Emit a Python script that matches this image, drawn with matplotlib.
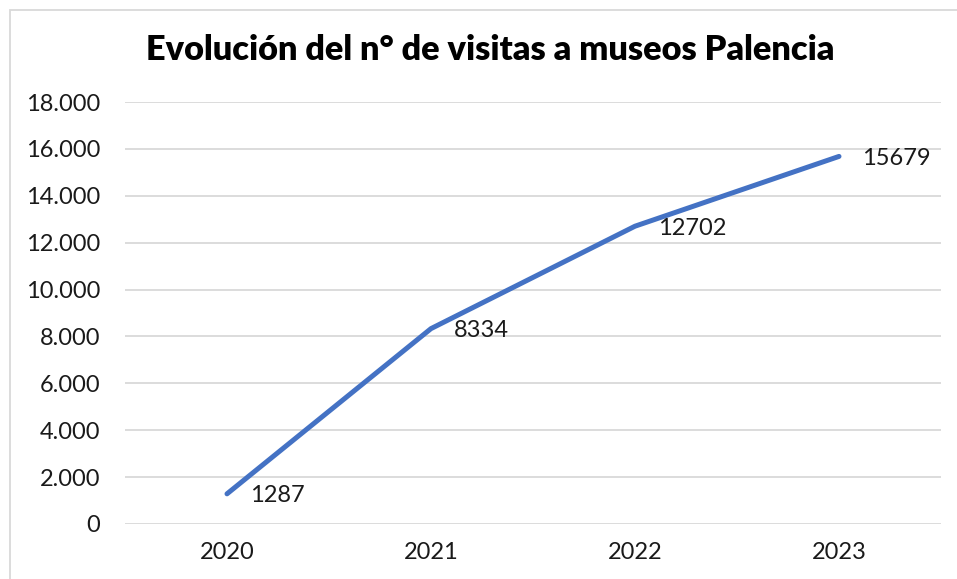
import matplotlib

matplotlib.use("Agg")
import matplotlib.pyplot as plt
from matplotlib.patches import Rectangle
from matplotlib.ticker import FuncFormatter

years = ["2020", "2021", "2022", "2023"]
visits = [1287, 8334, 12702, 15679]
y_ticks = list(range(0, 18001, 2000))

W, H = 957, 579
plt.rcParams["font.family"] = ["Lato", "DejaVu Sans"]

fig = plt.figure(figsize=(W / 100, H / 100), dpi=100)
ax = fig.add_axes([125 / W, 1 - 524 / H, 816 / W, 422 / H])

x = list(range(len(years)))
ax.plot(x, visits, color="#4472C4", linewidth=3.6, solid_capstyle="round",
        solid_joinstyle="round", zorder=3)
for xi, v in zip(x, visits):
    ax.annotate(str(v), (xi, v), xytext=(23, -2), textcoords="offset pixels",
                ha="left", va="center", fontsize=17, color="#1a1a1a")

ax.set_xlim(-0.5, len(years) - 0.5)
ax.set_ylim(0, 18000)
ax.set_xticks(x)
ax.set_xticklabels(years)
ax.set_yticks(y_ticks)
ax.yaxis.set_major_formatter(FuncFormatter(lambda v, _: f"{int(v):,}".replace(",", ".")))
ax.tick_params(length=0, labelsize=17, labelcolor="#1a1a1a")
ax.tick_params(axis="y", pad=18)
ax.tick_params(axis="x", pad=13)
ax.grid(axis="y", color="#D9D9D9", linewidth=1.3)
ax.set_axisbelow(True)
for s in ax.spines.values():
    s.set_visible(False)

fig.text(490 / W, 1 - 50 / H, "Evolución del n° de visitas a museos Palencia",
         ha="center", va="center", fontsize=24.7, fontweight="heavy", color="#000000")

fig.patches.append(Rectangle((10 / W, -0.1), 1.2, 1 - 10 / H + 0.1, transform=fig.transFigure,
                             fill=False, edgecolor="#D9D9D9", linewidth=1.3))

fig.savefig("out.png", dpi=100)
